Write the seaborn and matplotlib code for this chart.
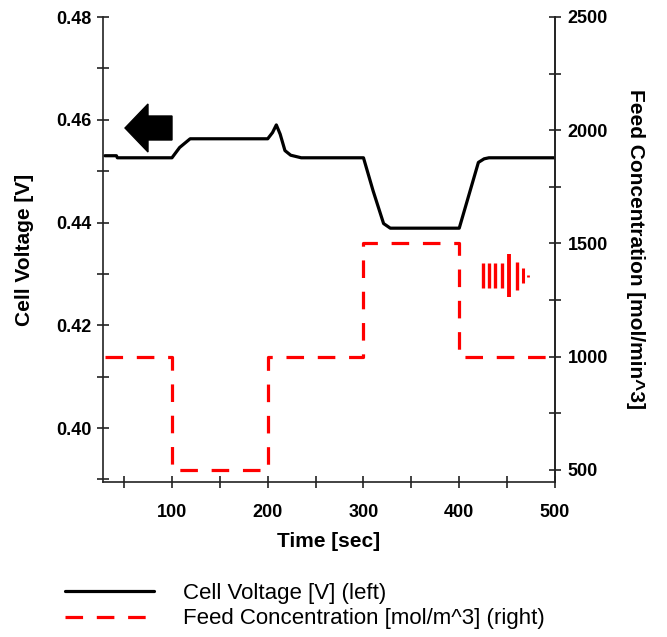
import matplotlib
matplotlib.use("Agg")
import matplotlib.pyplot as plt
import seaborn as sns
import pandas as pd
from matplotlib.patches import Polygon
from matplotlib.lines import Line2D
from matplotlib.ticker import MultipleLocator

# ---- data ----
time_v = [30, 42, 43, 100, 108, 119, 200, 205, 209, 213, 218, 224, 235,
          300, 310, 321, 328, 400, 410, 420, 426, 431, 500]
voltage = [0.4530, 0.4530, 0.4526, 0.4526, 0.4546, 0.4563, 0.4563, 0.4575,
           0.4590, 0.4572, 0.4540, 0.4531, 0.4526, 0.4526, 0.4462, 0.4398,
           0.4389, 0.4389, 0.4453, 0.4517, 0.4524, 0.4526, 0.4526]
time_c = [30, 100, 100, 200, 200, 300, 300, 400, 400, 500]
conc = [1000, 1000, 500, 500, 1000, 1000, 1500, 1500, 1000, 1000]

x_ticks = [100, 200, 300, 400, 500]
left_ticks = [0.40, 0.42, 0.44, 0.46, 0.48]
right_ticks = [500, 1000, 1500, 2000, 2500]

label_v = "Cell Voltage [V] (left)"
label_c = "Feed Concentration [mol/m^3] (right)"

df_v = pd.DataFrame({"t": time_v, "v": voltage})
df_c = pd.DataFrame({"t": time_c, "c": conc})

sns.set_style("ticks")
plt.rcParams["font.family"] = ["Liberation Sans", "DejaVu Sans"]
plt.rcParams["text.color"] = "black"
plt.rcParams["axes.labelcolor"] = "black"
plt.rcParams["xtick.color"] = "black"
plt.rcParams["ytick.color"] = "black"

fig = plt.figure(figsize=(6.67, 6.37), dpi=100)
ax = fig.add_axes([103/667, 1-482/637, 452/667, 465/637])
ax2 = ax.twinx()

sns.lineplot(data=df_v, x="t", y="v", ax=ax, color="black", lw=2.3,
             estimator=None, sort=False, legend=False)
sns.lineplot(data=df_c, x="t", y="c", ax=ax2, color="#ff0000", lw=2.3,
             estimator=None, sort=False, legend=False, dashes=False)
ax2.lines[0].set_dashes((5.5, 4.3))

ax.set_xlim(28, 500)
ax.set_ylim(0.3895, 0.48)
ax2.set_ylim(447, 2500)

ax.set_xticks(x_ticks)
ax.xaxis.set_minor_locator(MultipleLocator(50))
ax.set_yticks(left_ticks)
ax.set_yticklabels([f"{v:.2f}" for v in left_ticks])
ax.yaxis.set_minor_locator(MultipleLocator(0.01))
ax2.set_yticks(right_ticks)
ax2.yaxis.set_minor_locator(MultipleLocator(250))

for a in (ax, ax2):
    a.spines["top"].set_visible(False)
    for s in a.spines.values():
        s.set_linewidth(1.2)
        s.set_color("#222222")
    a.tick_params(which="both", direction="inout", length=8, width=1.2,
                  color="#222222", labelsize=13, labelcolor="black")
    for lab in a.get_xticklabels() + a.get_yticklabels():
        lab.set_fontweight("bold")
ax.tick_params(axis="x", pad=12)
ax.tick_params(axis="y", pad=4)
ax2.tick_params(axis="y", pad=5)
ax2.spines["left"].set_visible(False)
ax2.spines["bottom"].set_visible(False)

ax.set_xlabel("Time [sec]", fontsize=15, fontweight="bold", labelpad=8,
              color="black")
ax.set_ylabel("Cell Voltage [V]", fontsize=15, fontweight="bold",
              labelpad=16, color="black")
ax2.set_ylabel("Feed Concentration [mol/min^3]", fontsize=15,
               fontweight="bold", rotation=270, va="bottom", labelpad=13,
               color="black")

# ---- decorations: arrows ----
def px(x, y):
    return ((x - 103) / 452, (482 - y) / 465)

arrow_pts = [px(125, 128), px(148, 104), px(148, 116), px(172, 116),
             px(172, 140), px(148, 140), px(148, 152)]
ax.add_patch(Polygon(arrow_pts, closed=True, transform=ax.transAxes,
                     facecolor="black", edgecolor="black", clip_on=False))

stripe_x = [483, 489, 495, 502, 509, 517, 523, 528]
stripe_y = [(263, 288), (263, 288), (263, 288), (263, 288), (254, 297),
            (262, 290), (268, 283), (275, 277)]
stripe_w = [2.4, 2.4, 2.4, 2.4, 2.8, 2.4, 2.2, 2.0]
for sx, (y0, y1), w in zip(stripe_x, stripe_y, stripe_w):
    p0 = px(sx, y1)
    p1 = px(sx, y0)
    ax.plot([p0[0], p1[0]], [p0[1], p1[1]], transform=ax.transAxes,
            color="#ff0000", lw=w, solid_capstyle="butt")

handles = [Line2D([], [], color="black", lw=2.3),
           Line2D([], [], color="#ff0000", lw=2.3, dashes=(5.5, 4.3))]
fig.legend(handles, [label_v, label_c], loc="upper left",
           bbox_to_anchor=(65/667, 1-583/637), frameon=False, fontsize=16,
           handlelength=4.0, handletextpad=1.3, labelspacing=0.2,
           borderpad=0, borderaxespad=0)

fig.savefig("out.png", dpi=100)
